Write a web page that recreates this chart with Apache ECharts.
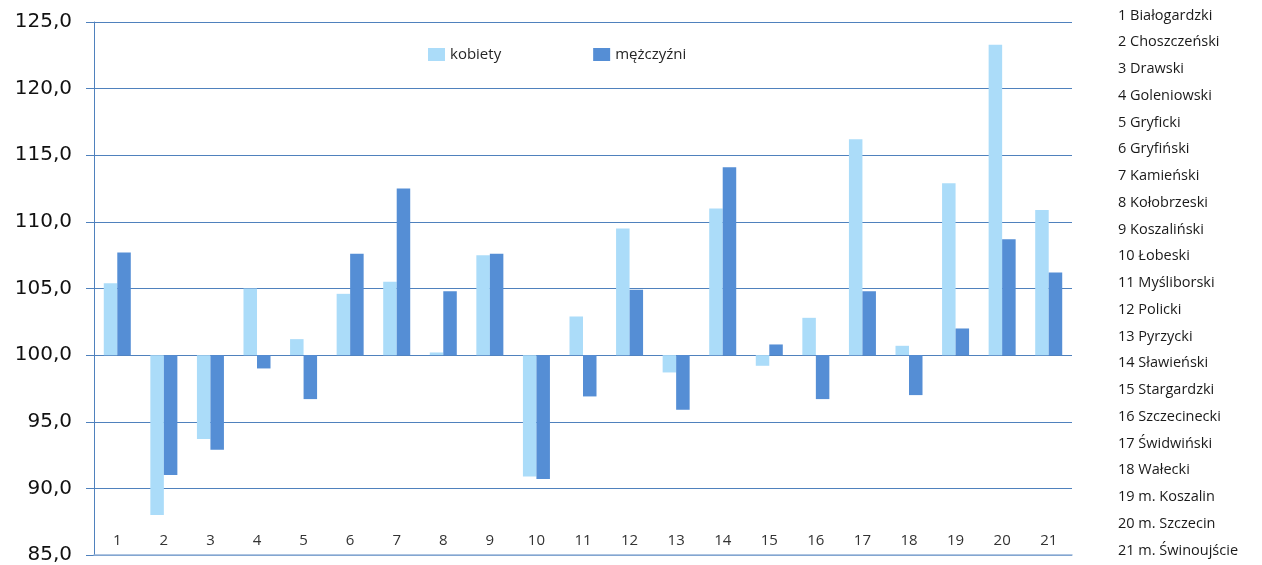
<!DOCTYPE html>
<html>
<head>
<meta charset="utf-8">
<script src="https://cdn.jsdelivr.net/npm/echarts@6/dist/echarts.min.js"></script>
<style>html,body{margin:0;padding:0;background:#fff}#c{width:1262px;height:565px}</style>
</head>
<body>
<div id="c"></div>
<script>
var categories = ['1','2','3','4','5','6','7','8','9','10','11','12','13','14','15','16','17','18','19','20','21'];
var names = ['1 Białogardzki','2 Choszczeński','3 Drawski','4 Goleniowski','5 Gryficki','6 Gryfiński','7 Kamieński','8 Kołobrzeski','9 Koszaliński','10 Łobeski','11 Myśliborski','12 Policki','13 Pyrzycki','14 Sławieński','15 Stargardzki','16 Szczecinecki','17 Świdwiński','18 Wałecki','19 m. Koszalin','20 m. Szczecin','21 m. Świnoujście'];
var kobiety = [105.4, 88.0, 93.7, 105.0, 101.2, 104.6, 105.5, 100.2, 107.5, 90.9, 102.9, 109.5, 98.7, 111.0, 99.2, 102.8, 116.2, 100.7, 112.9, 123.3, 110.9];
var mezczyzni = [107.7, 91.0, 92.9, 99.0, 96.7, 107.6, 112.5, 104.8, 107.6, 90.7, 96.9, 104.9, 95.9, 114.1, 100.8, 96.7, 104.8, 97.0, 102.0, 108.7, 106.2];
var baseline = 100;
var yTicks = {min: 85, max: 125, interval: 5};

function makeRender(side) {
  return function (params, api) {
    var cat = api.value(0), v = api.value(1);
    var top = api.coord([cat, v]);
    var base = api.coord([cat, baseline]);
    var cw = api.size([1, 0])[0];
    var w = cw * 0.29;
    var x = side === 0 ? top[0] - w : top[0];
    return {
      type: 'rect',
      shape: {x: x, y: Math.min(top[1], base[1]), width: w, height: Math.abs(top[1] - base[1])},
      style: api.style()
    };
  };
}
function toData(arr) { return arr.map(function (v, i) { return [i, v]; }); }

var graphics = names.map(function (n, i) {
  return {type: 'text', left: 1118, top: 8 + i * 26.75,
    style: {text: n, font: '14.5px "Open Sans", "Noto Sans", sans-serif', fill: '#1a1a1a'}};
});

var chart = echarts.init(document.getElementById('c'));
chart.setOption({
  animation: false,
  grid: {left: 94, right: 190, top: 22, bottom: 8},
  legend: {
    left: 423, top: 42, itemWidth: 17, itemHeight: 13, itemGap: 92, icon: 'rect',
    textStyle: {fontSize: 15, color: '#262626', fontFamily: '"Open Sans", "Noto Sans", sans-serif'},
    data: ['kobiety', 'mężczyźni']
  },
  xAxis: {
    type: 'category', data: categories, boundaryGap: true,
    axisLine: {show: true, lineStyle: {color: '#95B3D7', width: 1.5}},
    axisTick: {show: false},
    axisLabel: {inside: true, margin: 7, fontSize: 15, color: '#333',
      fontFamily: '"Open Sans", "Noto Sans", sans-serif'},
    z: 5
  },
  yAxis: {
    type: 'value', min: yTicks.min, max: yTicks.max, interval: yTicks.interval,
    axisLine: {show: true, lineStyle: {color: '#4F81BD', width: 1}},
    axisTick: {show: true, length: 8, lineStyle: {color: '#4F81BD'}},
    splitLine: {show: true, lineStyle: {color: '#4F81BD', width: 1}},
    axisLabel: {margin: 22, fontSize: 20, color: '#111', fontFamily: '"DejaVu Sans", sans-serif',
      formatter: function (v) { return v.toFixed(1).replace('.', ','); }}
  },
  graphic: graphics,
  series: [
    {name: 'kobiety', type: 'custom', renderItem: makeRender(0), data: toData(kobiety),
      encode: {x: 0, y: 1}, itemStyle: {color: '#ABDCF9'}, z: 3},
    {name: 'mężczyźni', type: 'custom', renderItem: makeRender(1), data: toData(mezczyzni),
      encode: {x: 0, y: 1}, itemStyle: {color: '#558ED5'}, z: 3}
  ]
});
</script>
</body>
</html>
